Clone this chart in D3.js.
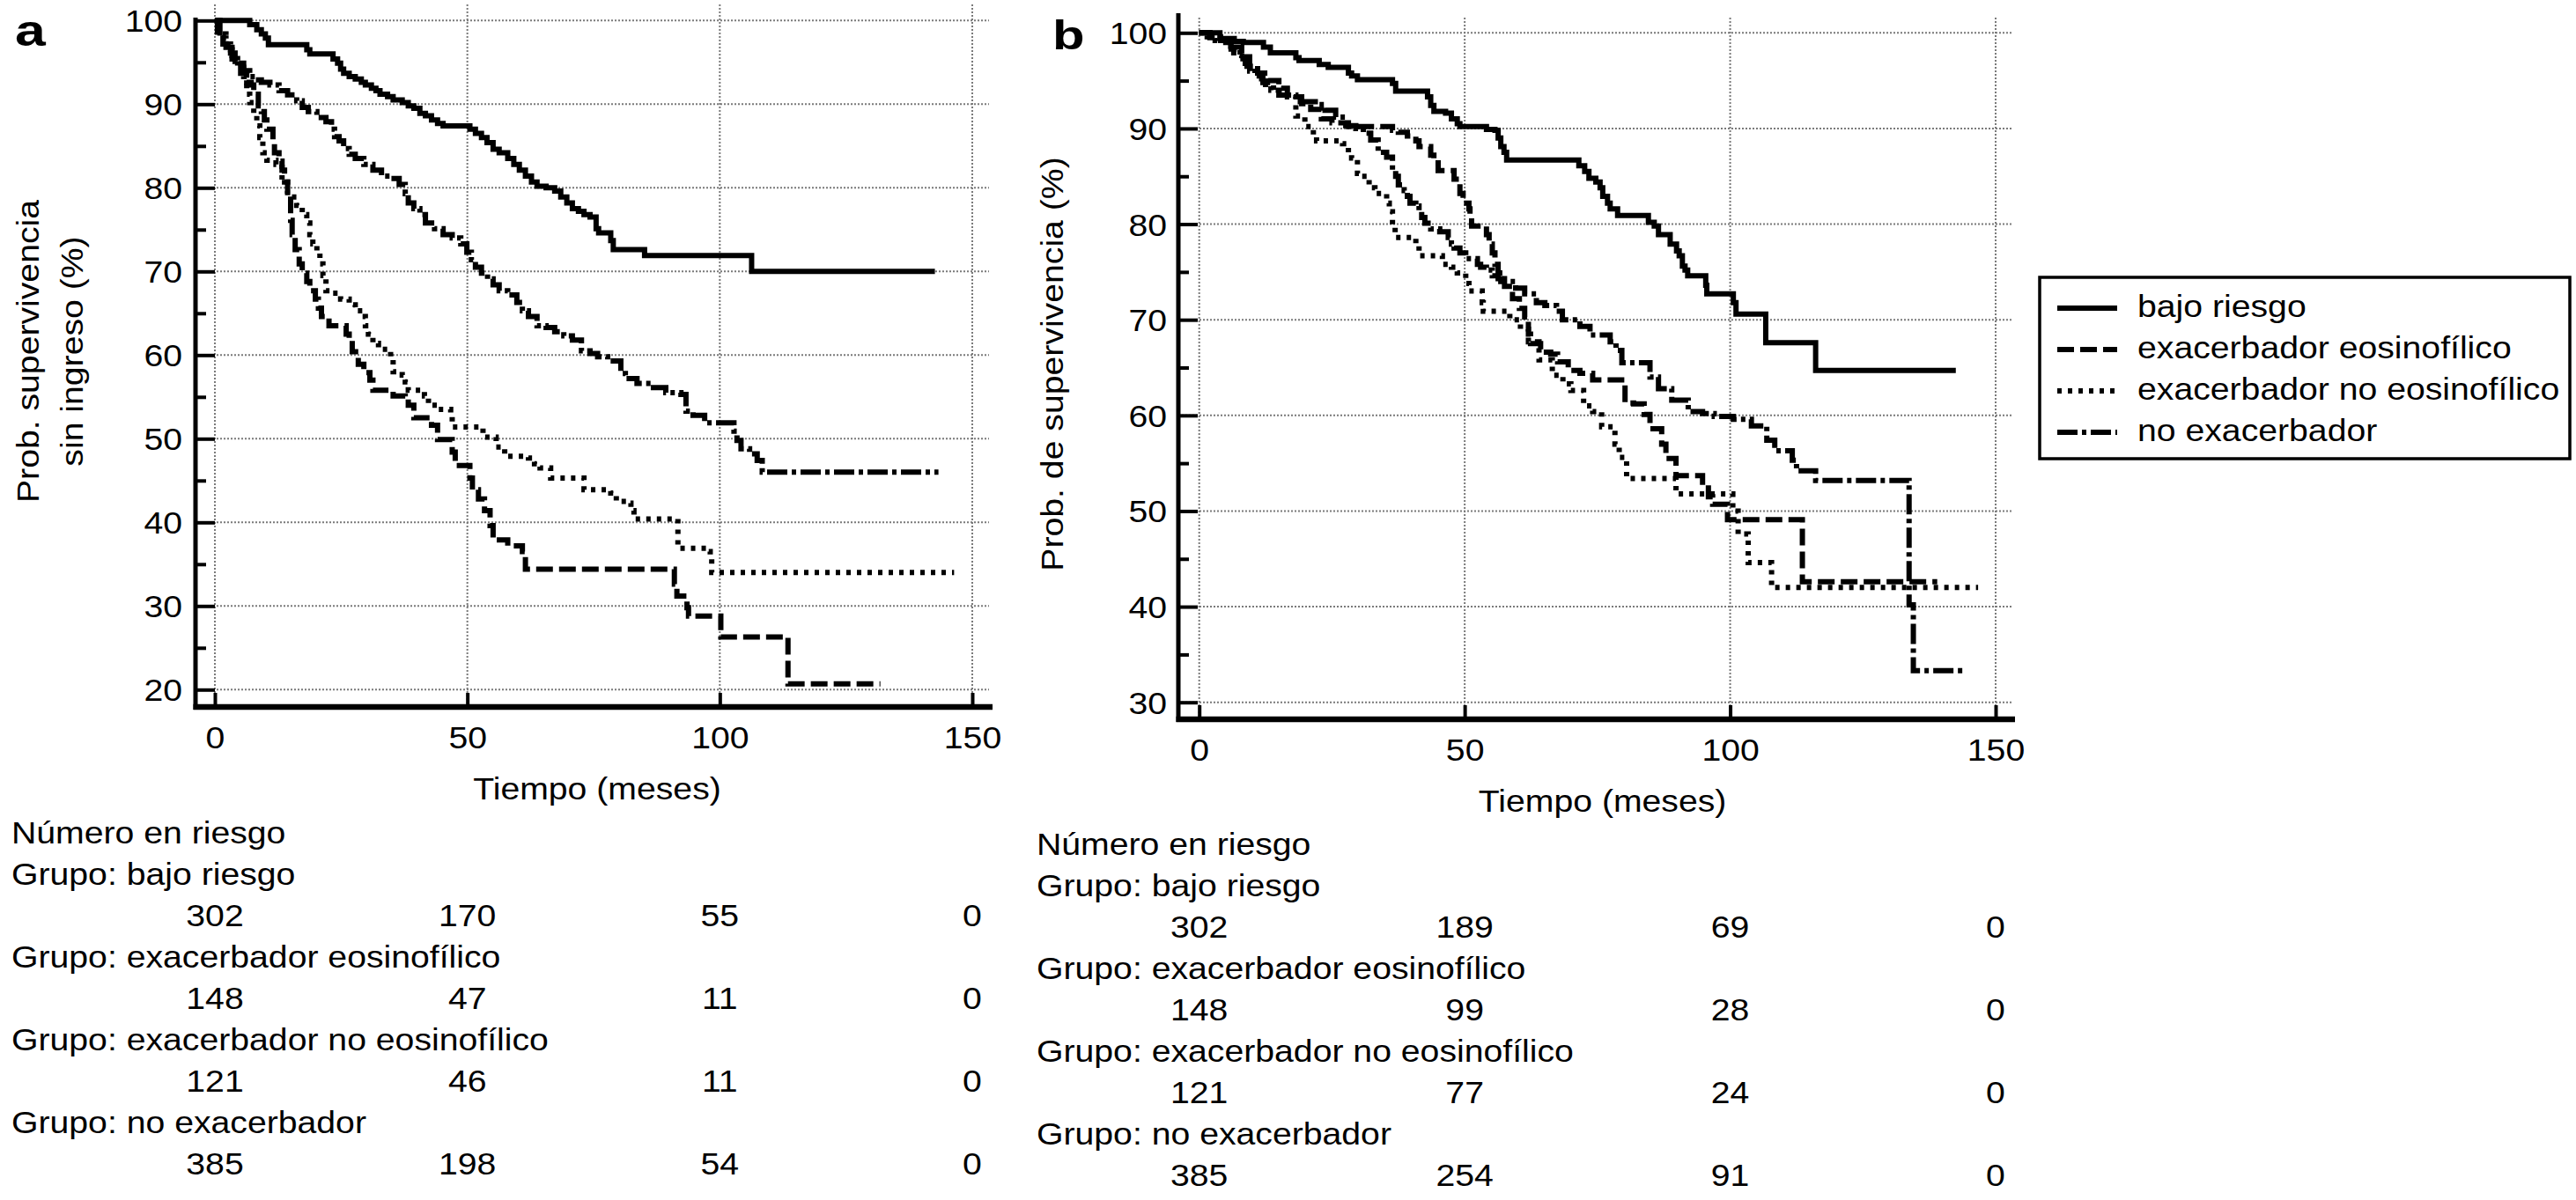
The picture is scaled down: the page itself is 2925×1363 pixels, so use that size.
<!DOCTYPE html>
<html><head><meta charset="utf-8">
<script src="https://cdn.jsdelivr.net/npm/d3@7"></script>
<style>
html,body{margin:0;padding:0;background:#fff;}
svg{display:block;}
text{font-family:"Liberation Sans",Arial,Helvetica,sans-serif;fill:#000;}
</style></head><body>
<svg id="chart" width="2925" height="1363"></svg>
<script>
// ---------------- DATA ----------------
const xTicks = [0, 50, 100, 150];
const yTicksA = [20, 30, 40, 50, 60, 70, 80, 90, 100];
const yMinorA = [25, 35, 45, 55, 65, 75, 85, 95];
const yTicksB = [30, 40, 50, 60, 70, 80, 90, 100];
const yMinorB = [35, 45, 55, 65, 75, 85, 95];
const groupNames = ["bajo riesgo", "exacerbador eosinofílico", "exacerbador no eosinofílico", "no exacerbador"];
const riskTimes = [0, 50, 100, 150];
const riskA_bajo = [302, 170, 55, 0];
const riskA_eos = [148, 47, 11, 0];
const riskA_noeos = [121, 46, 11, 0];
const riskA_noexac = [385, 198, 54, 0];
const riskB_bajo = [302, 189, 69, 0];
const riskB_eos = [148, 99, 28, 0];
const riskB_noeos = [121, 77, 24, 0];
const riskB_noexac = [385, 254, 91, 0];

// Panel a: [month, survival %] step points
const a_bajo = [[0,100],[6.9,99.5],[8.3,98.9],[9.2,98.4],[10,97.9],[10.6,97.1],[18.2,96.5],[18.8,96.0],[23.4,95.4],[24.3,94.9],[24.9,94.2],[25.5,93.7],[26.6,93.3],[27.8,93.0],[29.0,92.6],[29.8,92.3],[31.0,91.9],[31.9,91.6],[32.7,91.2],[34.2,90.9],[35.3,90.5],[37.1,90.2],[38.3,89.8],[39.4,89.5],[40.6,88.9],[41.7,88.6],[42.9,88.1],[44.1,87.7],[45.2,87.4],[50.5,87.0],[51.6,86.5],[52.8,86.0],[53.9,85.4],[55.1,84.6],[56.3,84.2],[58.0,83.5],[59.2,82.8],[60.3,82.1],[61.5,81.4],[62.7,80.7],[63.8,80.2],[65.6,80.0],[67.3,79.6],[68.5,78.9],[69.7,78.2],[70.8,77.5],[72.0,77.2],[73.1,76.8],[74.3,76.5],[75.5,75.1],[76.0,74.6],[78.4,73.7],[78.9,72.6],[85.1,71.9],[106.3,70.0],[142.6,70.0]];
const a_eos = [[0,100],[0.5,98.6],[1.6,97.2],[3.1,96.1],[4.0,95.1],[5.1,93.7],[6.3,92.6],[7.2,92.3],[7.7,91.2],[8.6,89.8],[9.2,89.1],[9.8,88.1],[10.3,87.0],[11.5,85.3],[11.8,84.2],[12.7,83.2],[13.3,82.1],[13.8,80.7],[14.4,79.6],[15.0,76.1],[15.3,74.4],[15.9,72.6],[16.7,70.9],[17.3,69.8],[18.2,68.8],[18.8,67.7],[19.9,66.7],[20.5,65.6],[21.1,64.6],[22.6,63.5],[26.0,62.5],[26.6,61.8],[27.2,60.4],[28.4,58.9],[29.5,57.9],[30.7,57.0],[31.3,55.8],[35.3,55.1],[37.7,54.7],[38.3,54.0],[39.4,52.5],[42.9,51.6],[44.1,49.9],[47.0,48.4],[47.6,46.8],[50.5,45.3],[51.0,43.9],[52.2,42.8],[53.4,41.4],[54.5,39.6],[55.1,37.9],[58.0,37.2],[60.9,36.5],[61.5,34.4],[91.0,32.6],[91.5,31.2],[93.5,29.8],[93.8,28.8],[100.2,26.3],[113.5,20.7],[131.8,20.7]];
const a_noeos = [[0,100],[0.75,98.4],[2.2,96.5],[3.4,95.4],[4.5,94.4],[5.7,93.3],[6.3,91.2],[6.9,90.2],[7.7,88.8],[8.3,87.4],[8.9,86.0],[9.5,84.2],[10.3,83.3],[12.1,82.8],[13.3,80.7],[14.4,78.9],[16.2,77.9],[17.3,76.8],[18.2,75.8],[18.8,74.4],[19.4,73.3],[20.2,72.3],[20.8,70.9],[21.4,69.5],[22.0,67.7],[23.1,67.4],[24.9,66.7],[26.6,66.0],[27.8,65.3],[29.2,64.6],[29.8,63.5],[30.4,62.5],[31.3,61.4],[32.4,60.7],[34.8,59.5],[35.3,58.0],[37.1,57.6],[37.7,56.8],[38.3,55.8],[41.5,55.1],[42.3,54.0],[44.1,53.5],[46.7,52.8],[47.0,51.4],[53.1,50.2],[55.7,49.0],[57.4,47.9],[62.1,47.7],[63.3,47.0],[64.4,46.5],[66.5,45.3],[73.1,43.9],[78.4,43.5],[79.5,42.5],[81.9,42.3],[82.4,41.4],[83.0,40.4],[91.7,36.9],[97.5,36.5],[98.1,35.8],[98.4,34.0],[146.4,34.0]];
const a_noexac = [[0,100],[1.0,97.9],[2.2,96.8],[3.4,95.8],[4.5,94.9],[5.7,94.0],[6.9,93.3],[8.0,92.9],[9.2,92.6],[10.9,92.3],[12.7,91.6],[14.4,91.1],[16.2,90.4],[17.3,89.6],[18.5,89.1],[20.2,88.4],[22.0,87.9],[23.1,87.0],[23.7,86.1],[24.6,85.6],[25.5,84.7],[26.6,84.0],[27.8,83.5],[29.5,82.8],[31.3,82.1],[33.0,81.4],[34.8,81.1],[36.5,80.4],[37.7,79.3],[38.3,78.2],[39.4,77.5],[40.6,76.8],[41.7,75.8],[43.5,75.1],[45.2,74.4],[47.0,74.0],[48.7,73.3],[49.9,72.3],[50.8,71.4],[51.6,70.5],[52.8,69.8],[54.0,69.1],[55.1,68.4],[56.3,67.7],[58.0,67.2],[59.8,66.3],[60.9,65.3],[62.1,64.6],[63.8,63.5],[65.6,63.3],[67.3,62.8],[69.1,62.3],[70.8,61.8],[72.6,60.5],[74.3,60.2],[75.8,59.8],[77.8,59.3],[80.4,57.8],[81.3,57.2],[83.6,56.6],[86.3,56.1],[89.3,55.5],[92.3,55.3],[93.3,53.3],[94.7,52.8],[97.0,51.9],[102.8,50.9],[103.4,49.8],[104.2,48.8],[105.9,48.2],[107.4,47.4],[108.4,46.0],[143.3,46.0]];

// Panel b
const b_bajo = [[0,100],[3.9,99.4],[6.6,99.1],[8.3,99.0],[12.1,98.5],[13.4,97.9],[18.2,97.4],[18.8,97.1],[22.6,96.7],[24.3,96.4],[28.1,95.8],[28.7,95.5],[29.8,95.1],[36.4,94.7],[37.0,93.9],[43.0,93.3],[43.6,92.4],[44.2,91.8],[46.4,91.6],[47.5,91.0],[48.6,90.5],[49.1,90.2],[54.1,89.9],[55.7,89.8],[56.3,89.0],[56.8,88.1],[57.4,87.5],[57.9,86.7],[71.5,86.1],[72.6,85.5],[73.4,84.8],[74.7,84.4],[75.5,83.8],[76.0,82.9],[76.9,82.2],[77.4,81.6],[78.8,80.9],[84.6,80.2],[85.7,79.8],[86.5,78.9],[88.7,77.9],[89.9,77.2],[90.4,76.7],[91.0,75.6],[91.5,75.2],[92.0,74.6],[95.4,73.6],[95.6,72.7],[100.6,71.8],[101.1,70.6],[106.7,67.6],[116.1,64.7],[142.5,64.7]];
const b_eos = [[0,100],[2,99.6],[4,99.2],[6,98.5],[8,97.5],[9.5,96.6],[11,95.8],[13,95.0],[15,94.2],[16.6,93.3],[19.3,92.6],[21,92.0],[23,91.0],[25,90.6],[28.1,90.2],[36.4,89.8],[37.5,89.6],[39.2,89.2],[40.8,88.7],[41.4,88.1],[43.6,87.2],[44.2,86.4],[45.0,85.6],[48.0,84.7],[49.1,83.2],[49.7,82.2],[50.8,81.6],[51.0,80.7],[51.3,79.8],[54.1,78.9],[54.6,77.9],[55.2,77.0],[55.7,75.8],[56.3,74.9],[56.6,74.3],[57.5,73.5],[59.0,72.2],[60.3,71.2],[61.3,70.3],[62.0,68.5],[62.4,67.5],[64.3,66.6],[66.2,66.4],[67.5,65.6],[69.5,64.7],[71.7,64.4],[74.1,63.7],[80.2,61.3],[81.8,61.2],[83.8,60.1],[84.9,58.6],[87.1,57.0],[87.9,55.5],[89.8,53.7],[94.8,52.7],[95.9,51.5],[96.7,50.7],[99.5,49.1],[113.6,42.6],[139.0,42.6]];
const b_noeos = [[0,100],[1.5,99.6],[3,99.2],[5,98.6],[6.5,97.6],[8,96.8],[9.5,96.0],[11,95.2],[12.5,94.6],[14,93.8],[16,93.5],[17.7,93.3],[18.2,91.3],[19.9,90.2],[21.5,89.3],[22.1,88.7],[27.0,88.4],[28.1,87.5],[28.7,86.9],[29.8,85.3],[30.4,85.0],[32.0,83.8],[33.1,83.2],[35.3,82.2],[35.8,81.3],[36.4,79.8],[36.9,78.6],[40.8,77.9],[41.4,76.7],[45.8,75.8],[47.5,75.5],[48.6,74.9],[50.2,73.8],[50.8,73.0],[53.3,71.8],[53.5,70.9],[58.5,70.0],[60.5,69.0],[62.0,67.7],[64.0,65.8],[66.5,64.2],[68.5,63.3],[70.0,62.6],[72.4,61.0],[74.1,60.4],[75.8,58.8],[78.3,57.0],[79.1,55.6],[80.5,53.4],[89.8,51.8],[100.5,50.0],[101.5,47.6],[103.4,44.6],[107.8,42.0],[146.7,42.0]];
const b_noexac = [[0,100],[2,99.5],[4,99.0],[6,98.3],[7.7,97.3],[9,96.5],[10.5,95.5],[12,94.8],[13.5,94.0],[15,93.5],[18.2,92.8],[22.6,92.5],[23.7,91.9],[25.7,91.2],[27.6,90.3],[29.5,90.0],[30.9,89.5],[32.3,88.8],[33.7,87.5],[35.3,87.0],[36.4,85.6],[37.0,85.0],[37.5,84.1],[38.6,83.5],[39.2,82.9],[39.7,82.2],[40.8,81.9],[41.4,81.3],[41.9,80.7],[42.5,80.1],[43.6,79.5],[45.3,79.2],[46.9,78.6],[47.5,77.9],[48.0,77.5],[49.1,77.0],[50.2,76.4],[52.4,75.8],[53.0,75.5],[54.1,75.2],[55.2,74.6],[56.3,74.3],[56.8,74.0],[59.6,73.3],[61.3,72.7],[63.5,71.8],[65.1,71.5],[67.3,70.9],[68.4,70.0],[71.7,69.3],[73.6,68.4],[77.4,67.7],[78.5,66.8],[79.6,65.5],[84.9,64.0],[86.5,62.8],[89.0,61.6],[92.1,60.4],[94.8,60.2],[97.0,59.9],[100.6,59.6],[104.0,58.9],[106.9,57.4],[108.4,56.3],[111.7,55.3],[112.5,54.2],[116.1,53.2],[133.7,40.2],[134.5,33.3],[144.2,33.3]];

// ---------------- DRAWING ----------------
const svg = d3.select("#chart");
const FS = 35, SX = 1.12;
const styles = [null, "19,7", "5,7", "23,5,5,5"];

function txt(g, x, y, s, o = {}) {
  const t = g.append("text")
    .attr("transform", `translate(${x},${y})${o.rot ? ` rotate(${o.rot})` : ""} scale(${o.sx || SX},1)`)
    .attr("font-size", o.fs || FS)
    .attr("text-anchor", o.anchor || "start")
    .text(s);
  if (o.bold) t.attr("font-weight", "bold");
  return t;
}

function panel(c) {
  const g = svg.append("g");
  const x = d3.scaleLinear().domain([0, 150]).range(c.xr);
  const y = d3.scaleLinear().domain(c.yd).range(c.yr);

  // grid
  g.append("g").selectAll("line").data(xTicks).join("line")
    .attr("x1", d => x(d)).attr("x2", d => x(d)).attr("y1", c.gridTop).attr("y2", c.axisY)
    .attr("stroke", "#7a7a7a").attr("stroke-width", 2).attr("stroke-dasharray", "2,2");
  g.append("g").selectAll("line").data(c.yTicks).join("line")
    .attr("x1", c.axisX).attr("x2", c.gridRight).attr("y1", d => y(d)).attr("y2", d => y(d))
    .attr("stroke", "#7a7a7a").attr("stroke-width", 2).attr("stroke-dasharray", "2,2");

  // curves
  const line = d3.line().x(d => x(d[0])).y(d => y(d[1])).curve(d3.curveStepAfter);
  c.series.forEach((s, i) => {
    g.append("path").attr("d", line(s)).attr("fill", "none").attr("stroke", "#000")
      .attr("stroke-width", 6).attr("stroke-dasharray", styles[i]);
  });

  // y axis (major)
  const yAx = g.append("g").attr("transform", `translate(${c.axisX},0)`)
    .call(d3.axisLeft(y).tickValues(c.yTicks).tickSize(-22).tickPadding(c.yPad).tickFormat(d3.format("d")));
  yAx.select(".domain").remove();
  yAx.selectAll(".tick line").attr("stroke", "#000").attr("stroke-width", 4);
  yAx.selectAll(".tick text").attr("x", null).attr("dy", null).attr("font-size", FS)
    .attr("transform", `translate(${-c.yPad},12.5) scale(${SX},1)`);
  // y axis (minor)
  const yMin = g.append("g").attr("transform", `translate(${c.axisX},0)`)
    .call(d3.axisLeft(y).tickValues(c.yMinor).tickSize(-12).tickFormat(""));
  yMin.select(".domain").remove();
  yMin.selectAll(".tick line").attr("stroke", "#000").attr("stroke-width", 4);

  // x axis
  const xAx = g.append("g").attr("transform", `translate(0,${c.axisY})`)
    .call(d3.axisBottom(x).tickValues(xTicks).tickSize(-16).tickFormat(d3.format("d")));
  xAx.select(".domain").remove();
  xAx.selectAll(".tick line").attr("stroke", "#000").attr("stroke-width", 4);
  xAx.selectAll(".tick text").attr("y", null).attr("dy", null).attr("font-size", FS)
    .attr("transform", `translate(0,47) scale(${SX},1)`);

  // axis lines
  g.append("line").attr("x1", c.axisX).attr("x2", c.axisX).attr("y1", c.axisTop).attr("y2", c.axisY + 3)
    .attr("stroke", "#000").attr("stroke-width", 5);
  g.append("line").attr("x1", c.axisX - 2.5).attr("x2", c.axisRight).attr("y1", c.axisY).attr("y2", c.axisY)
    .attr("stroke", "#000").attr("stroke-width", 6.5);

  // titles
  txt(g, c.letter[1], c.letter[2], c.letter[0], {bold: true, fs: c.letter[3], sx: c.letter[4]});
  c.yTitle.forEach(t => txt(g, t[1], c.yTitleY, t[0], {rot: -90, anchor: "middle"}));
  txt(g, c.xTitleX, c.xTitleY, "Tiempo (meses)", {anchor: "middle"});

  // number at risk table
  let yy = c.tabY;
  txt(g, c.tabX, yy, "Número en riesgo");
  c.risk.forEach((r, i) => {
    yy += c.tabStep;
    txt(g, c.tabX, yy, "Grupo: " + groupNames[i]);
    yy += c.tabStep;
    r.forEach((v, j) => txt(g, x(riskTimes[j]), yy, String(v), {anchor: "middle"}));
  });
  return {x, y};
}

panel({
  xr: [244, 1104], yd: [20, 100], yr: [783.3, 23.3],
  axisX: 222, axisY: 803, axisTop: 20, axisRight: 1127, gridTop: 5, gridRight: 1123,
  yTicks: yTicksA, yMinor: yMinorA, yPad: 15,
  series: [a_bajo, a_eos, a_noeos, a_noexac],
  letter: ["a", 17, 52, 50, 1.25],
  yTitle: [["Prob. supervivencia", 43.5], ["sin ingreso (%)", 94]], yTitleY: 399,
  xTitleX: 678, xTitleY: 907.5,
  risk: [riskA_bajo, riskA_eos, riskA_noeos, riskA_noexac],
  tabX: 13, tabY: 957.5, tabStep: 47
});

panel({
  xr: [1361.7, 2266], yd: [30, 100], yr: [797.7, 37.3],
  axisX: 1338, axisY: 817, axisTop: 15, axisRight: 2288, gridTop: 20, gridRight: 2285,
  yTicks: yTicksB, yMinor: yMinorB, yPad: 13,
  series: [b_bajo, b_eos, b_noeos, b_noexac],
  letter: ["b", 1195, 56, 46, 1.3],
  yTitle: [["Prob. de supervivencia (%)", 1207]], yTitleY: 413.5,
  xTitleX: 1819.6, xTitleY: 921.8,
  risk: [riskB_bajo, riskB_eos, riskB_noeos, riskB_noexac],
  tabX: 1177, tabY: 971, tabStep: 46.95
});

// legend
const lg = svg.append("g");
lg.append("rect").attr("x", 2316).attr("y", 315).attr("width", 602).attr("height", 206)
  .attr("fill", "#fff").attr("stroke", "#000").attr("stroke-width", 3.5);
groupNames.forEach((n, i) => {
  const ly = 350 + 47 * i;
  lg.append("line").attr("x1", 2336).attr("x2", 2404).attr("y1", ly).attr("y2", ly)
    .attr("stroke", "#000").attr("stroke-width", 6).attr("stroke-dasharray", styles[i]);
  txt(lg, 2427, ly + 10, n);
});
</script>
</body></html>
